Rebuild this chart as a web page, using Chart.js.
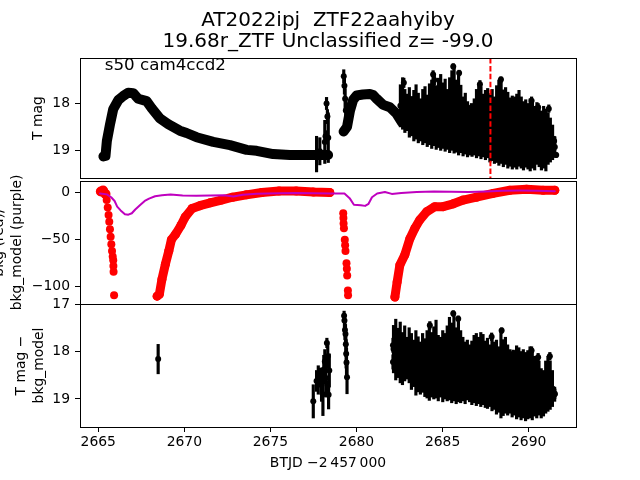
<!DOCTYPE html>
<html>
<head>
<meta charset="utf-8">
<title>AT2022ipj light curve</title>
<script src="https://cdn.jsdelivr.net/npm/chart.js@4.4.1/dist/chart.umd.min.js"></script>
<style>
  html, body { margin: 0; padding: 0; background: #fff; }
  #fig { position: relative; width: 640px; height: 480px; overflow: hidden; }
  #fig canvas { position: absolute; left: 0; }
</style>
</head>
<body>
<div id="fig">
  <canvas id="cTop" width="640" height="182" style="top:0px"></canvas>
  <canvas id="cBot" width="640" height="197" style="top:283px"></canvas>
  <canvas id="cMid" width="640" height="165" style="top:160px"></canvas>
</div>
<script>
// ---- values ----
const titleLines = ['AT2022ipj  ZTF22aahyiby', '19.68r_ZTF Unclassified z= -99.0'];
const sectorLabel = 's50 cam4ccd2';

const xRange = [2663.94, 2692.75];
const xTicks = [2665, 2670, 2675, 2680, 2685, 2690];
const topRange = [17.03, 19.59];
const topTicks = [18, 19];
const midRange = [-118.3, 12.2];
const midTicks = [0, -50, -100];
const botRange = [17.0, 19.59];
const botTicks = [17, 18, 19];
const markT = 2687.78;   // red dashed marker

// top panel: smooth parts of the light curve (dense, tiny errors)
const topCurve1T = [2665.30, 2665.42, 2665.50, 2665.68, 2665.87, 2666.16, 2666.45, 2666.74, 2667.03, 2667.32,
  2667.81, 2668.10, 2668.58, 2669.06, 2669.74, 2670.13, 2670.71, 2671.68, 2672.65, 2673.62,
  2674.20, 2675.16, 2676.13, 2677.20, 2678.35];
const topCurve1M = [19.13, 19.12, 18.80, 18.45, 18.12, 17.93, 17.84, 17.77, 17.78, 17.90,
  17.95, 18.10, 18.32, 18.44, 18.58, 18.63, 18.72, 18.82, 18.89, 18.99,
  19.01, 19.08, 19.10, 19.10, 19.10];
const topCurve2T = [2679.25, 2679.45, 2679.62, 2679.81, 2680.01, 2680.37, 2680.78, 2680.97, 2681.17, 2681.55, 2681.94, 2682.33, 2682.64];
const topCurve2M = [18.60, 18.50, 18.16, 17.92, 17.83, 17.81, 17.80, 17.82, 17.90, 18.03, 18.08, 18.22, 18.40];

// top panel: isolated points with visible error bars
const topSparseT = [2677.68, 2677.87, 2678.16, 2678.20, 2678.26, 2678.31, 2678.36, 2679.26, 2679.30, 2679.34,
  2679.38, 2679.42, 2682.75, 2684.45, 2684.52, 2685.62, 2685.96, 2686.68, 2687.17, 2688.39,
  2689.20, 2690.17, 2690.55, 2691.17, 2691.48, 2691.60];
const topSparseM = [19.08, 19.02, 18.82, 18.70, 18.00, 18.28, 18.73, 17.42, 17.62, 17.90,
  18.15, 18.40, 17.56, 17.38, 17.50, 17.21, 17.35, 18.08, 17.59, 17.49,
  17.94, 17.94, 18.08, 18.11, 18.80, 19.10];
const topSparseE = [0.38, 0.29, 0.46, 0.12, 0.13, 0.15, 0.53, 0.14, 0.18, 0.22,
  0.24, 0.22, 0.10, 0.08, 0.10, 0.06, 0.06, 0.08, 0.08, 0.06,
  0.08, 0.08, 0.08, 0.08, 0.10, 0.05];

// top panel: noisy stretch after 2682.5
const topNoisyT = [2682.55, 2682.68, 2682.81, 2682.94, 2683.07, 2683.20, 2683.33, 2683.46, 2683.59, 2683.72,
  2683.85, 2683.98, 2684.11, 2684.24, 2684.37, 2684.50, 2684.63, 2684.76, 2684.89, 2685.02,
  2685.15, 2685.28, 2685.41, 2685.54, 2685.67, 2685.80, 2685.93, 2686.06, 2686.19, 2686.32,
  2686.45, 2686.58, 2686.71, 2686.84, 2686.97, 2687.10, 2687.23, 2687.36, 2687.49, 2687.62,
  2687.75, 2687.88, 2688.01, 2688.14, 2688.27, 2688.40, 2688.53, 2688.66, 2688.79, 2688.92,
  2689.05, 2689.18, 2689.31, 2689.44, 2689.57, 2689.70, 2689.83, 2689.96, 2690.09, 2690.22,
  2690.35, 2690.48, 2690.61, 2690.74, 2690.87, 2691.00, 2691.13, 2691.26, 2691.39, 2691.52];
const topNoisyM = [18.05, 18.00, 18.16, 18.19, 18.19, 18.27, 18.26, 18.18, 18.31, 18.35,
  18.29, 18.24, 18.37, 18.23, 18.23, 18.15, 18.30, 18.20, 18.19, 18.26,
  18.25, 18.34, 18.25, 18.15, 18.14, 18.27, 18.23, 18.33, 18.49, 18.43,
  18.55, 18.58, 18.62, 18.50, 18.43, 18.35, 18.41, 18.47, 18.46, 18.42,
  18.52, 18.46, 18.57, 18.44, 18.41, 18.38, 18.53, 18.48, 18.57, 18.61,
  18.62, 18.64, 18.60, 18.53, 18.62, 18.69, 18.64, 18.70, 18.67, 18.67,
  18.74, 18.64, 18.73, 18.79, 18.72, 18.78, 18.75, 18.78, 18.83, 18.93];
const topNoisyE = [0.45, 0.55, 0.46, 0.39, 0.53, 0.42, 0.54, 0.58, 0.53, 0.45,
  0.59, 0.60, 0.55, 0.65, 0.73, 0.75, 0.68, 0.74, 0.81, 0.70,
  0.77, 0.64, 0.80, 0.85, 0.92, 0.77, 0.87, 0.72, 0.63, 0.65,
  0.59, 0.52, 0.51, 0.60, 0.73, 0.77, 0.77, 0.67, 0.74, 0.74,
  0.73, 0.76, 0.71, 0.82, 0.91, 0.90, 0.82, 0.82, 0.81, 0.73,
  0.78, 0.72, 0.80, 0.81, 0.76, 0.73, 0.72, 0.70, 0.77, 0.71,
  0.68, 0.66, 0.62, 0.63, 0.66, 0.66, 0.55, 0.47, 0.37, 0.22];

// middle panel: background flux (red) in pieces, and model (purple)
const redAT = [2665.15, 2665.28, 2665.42];
const redAV = [1.0, 2.0, -1.5];
const redDive1T = [2665.49, 2665.55, 2665.60, 2665.64, 2665.68, 2665.72, 2665.76, 2665.80, 2665.84, 2665.87, 2665.88, 2665.89, 2665.92];
const redDive1V = [-8, -16, -24, -31, -39, -47, -55, -62, -68, -72, -78, -84, -109];
const redBT = [2668.42, 2668.55, 2668.70, 2668.90, 2669.10, 2669.25, 2669.50, 2669.80, 2670.05, 2670.45,
  2670.90, 2671.50, 2672.15, 2672.80, 2673.60, 2674.50, 2675.50, 2676.50, 2677.50, 2678.45];
const redBV = [-110, -108, -92, -76, -62, -50, -44, -35, -26, -17,
  -14, -11, -8, -5, -2.5, 0, 1.5, 1.5, 0.5, 0];
const redDive2T = [2679.23, 2679.24, 2679.25, 2679.27, 2679.32, 2679.34, 2679.36, 2679.42, 2679.44, 2679.46, 2679.50, 2679.51];
const redDive2V = [-22, -27, -33, -38, -50, -56, -62, -75, -81, -88, -104, -109];
const redCT = [2682.23, 2682.36, 2682.52, 2682.81, 2683.10, 2683.39, 2683.68, 2684.07, 2684.55, 2685.03,
  2685.62, 2686.20, 2686.97, 2687.94, 2688.91, 2689.88, 2690.84, 2691.52];
const redCV = [-111, -95, -77, -66, -49, -38, -29, -20.5, -15, -15,
  -12, -8, -5, -1, 2.4, 3.5, 2.4, 2.4];
const modelT = [2665.10, 2665.50, 2665.75, 2665.95, 2666.10, 2666.30, 2666.55, 2666.75, 2666.95, 2667.15,
  2667.45, 2667.70, 2667.95, 2668.30, 2668.70, 2669.20, 2669.90, 2670.70, 2671.50, 2672.30,
  2672.85, 2673.40, 2674.20, 2675.50, 2676.50, 2677.50, 2678.50, 2679.30, 2679.60, 2679.85,
  2680.25, 2680.50, 2680.70, 2680.90, 2681.20, 2681.65, 2682.05, 2682.60, 2683.50, 2684.50,
  2685.50, 2686.50, 2687.50, 2688.50, 2689.50, 2690.50, 2691.52];
const modelV = [-1.0, -2.0, -5.0, -9.0, -15, -19, -23, -23.5, -22, -18,
  -13, -9, -6.5, -4, -3, -2.2, -3.3, -3.5, -3.2, -2.8,
  -4.3, -2.5, -1.3, -0.8, -0.5, -0.8, -1.0, -1.0, -6, -13,
  -13.5, -14.2, -12, -5, -1, 0.6, -1.5, -0.5, 0.5, 1.0,
  0.8, 0.6, 1.0, 1.8, 2.0, 1.8, 1.4];

// bottom panel: T mag - bkg_model
const botSparseT = [2668.48, 2677.49, 2677.68, 2677.78, 2677.87, 2677.97, 2678.05, 2678.10, 2678.16, 2678.22,
  2678.28, 2678.33, 2678.38, 2678.42, 2679.28, 2679.30, 2679.33, 2679.36, 2679.38, 2679.40,
  2679.42, 2679.45, 2682.12, 2682.12, 2684.26, 2685.62, 2685.91, 2687.85, 2688.43, 2689.10,
  2690.17, 2690.55, 2691.23, 2691.52];
const botSparseM = [18.16, 19.05, 18.62, 18.60, 18.55, 18.70, 18.90, 18.38, 18.21, 18.56,
  17.82, 18.10, 18.91, 18.40, 17.25, 17.35, 17.55, 17.63, 17.85, 18.05,
  18.23, 18.54, 17.87, 18.22, 17.45, 17.20, 17.31, 17.69, 17.56, 18.05,
  17.98, 18.12, 18.10, 18.89];
const botSparseE = [0.31, 0.35, 0.22, 0.30, 0.20, 0.35, 0.45, 0.30, 0.25, 0.40,
  0.10, 0.25, 0.30, 0.35, 0.10, 0.15, 0.20, 0.20, 0.25, 0.30,
  0.30, 0.35, 0.15, 0.15, 0.08, 0.06, 0.06, 0.08, 0.06, 0.08,
  0.08, 0.08, 0.08, 0.10];
const botNoisyT = [2682.15, 2682.28, 2682.41, 2682.54, 2682.67, 2682.80, 2682.93, 2683.06, 2683.19, 2683.32,
  2683.45, 2683.58, 2683.71, 2683.84, 2683.97, 2684.10, 2684.23, 2684.36, 2684.49, 2684.62,
  2684.75, 2684.88, 2685.01, 2685.14, 2685.27, 2685.40, 2685.53, 2685.66, 2685.79, 2685.92,
  2686.05, 2686.18, 2686.31, 2686.44, 2686.57, 2686.70, 2686.83, 2686.96, 2687.09, 2687.22,
  2687.35, 2687.48, 2687.61, 2687.74, 2687.87, 2688.00, 2688.13, 2688.26, 2688.39, 2688.52,
  2688.65, 2688.78, 2688.91, 2689.04, 2689.17, 2689.30, 2689.43, 2689.56, 2689.69, 2689.82,
  2689.95, 2690.08, 2690.21, 2690.34, 2690.47, 2690.60, 2690.73, 2690.86, 2690.99, 2691.12,
  2691.25, 2691.38, 2691.51];
const botNoisyM = [17.95, 17.96, 18.03, 18.02, 18.15, 18.04, 18.14, 18.08, 18.21, 18.25,
  18.24, 18.27, 18.35, 18.24, 18.34, 18.27, 18.23, 18.28, 18.24, 18.16,
  18.35, 18.33, 18.31, 18.31, 18.25, 18.15, 18.24, 18.13, 18.30, 18.19,
  18.32, 18.37, 18.45, 18.39, 18.46, 18.45, 18.37, 18.38, 18.40, 18.38,
  18.38, 18.48, 18.46, 18.51, 18.48, 18.51, 18.54, 18.59, 18.49, 18.55,
  18.50, 18.60, 18.63, 18.72, 18.66, 18.65, 18.65, 18.72, 18.68, 18.74,
  18.70, 18.65, 18.72, 18.73, 18.77, 18.77, 18.88, 18.88, 18.75, 18.68,
  18.71, 18.78, 18.90];
const botNoisyE = [0.50, 0.64, 0.52, 0.64, 0.55, 0.58, 0.44, 0.58, 0.59, 0.49,
  0.68, 0.58, 0.55, 0.62, 0.61, 0.71, 0.80, 0.68, 0.76, 0.82,
  0.69, 0.63, 0.75, 0.69, 0.79, 0.87, 0.84, 0.91, 0.80, 0.87,
  0.76, 0.67, 0.65, 0.63, 0.60, 0.67, 0.71, 0.76, 0.70, 0.78,
  0.74, 0.70, 0.74, 0.65, 0.77, 0.71, 0.78, 0.69, 0.91, 0.80,
  0.80, 0.74, 0.67, 0.66, 0.68, 0.77, 0.73, 0.72, 0.72, 0.72,
  0.72, 0.75, 0.72, 0.63, 0.63, 0.57, 0.52, 0.48, 0.55, 0.58,
  0.51, 0.38, 0.15];

// ---- helpers ----
Chart.defaults.font.family = "'DejaVu Sans', sans-serif";
Chart.defaults.font.size = 13.9;
Chart.defaults.color = '#000';
Chart.defaults.animation = false;

const xy = (ts, vs) => ts.map((t, i) => ({x: t, y: vs[i]}));
const errBars = (ts, ms, es) => ts.map((t, i) => ({x: t, y: [ms[i] - es[i], ms[i] + es[i]]}));
const minus = v => String(v).replace('-', '\u2212');

// axes box, drawn like matplotlib spines
const frame = {
  id: 'frame',
  afterDatasetsDraw(chart) {
    const {ctx, chartArea: a} = chart;
    const l = Math.round(a.left), t = Math.round(a.top), r = Math.round(a.right), b = Math.round(a.bottom);
    ctx.save();
    ctx.strokeStyle = '#000';
    ctx.lineWidth = 1;
    ctx.strokeRect(l + 0.5, t + 0.5, r - l, b - t);
    ctx.restore();
  }
};

const sectorText = {
  id: 'sectorText',
  afterDraw(chart) {
    const {ctx, chartArea: a} = chart;
    ctx.save();
    ctx.font = "16.7px 'DejaVu Sans', sans-serif";
    ctx.fillStyle = '#000';
    ctx.textBaseline = 'alphabetic';
    ctx.fillText(sectorLabel, a.left + 0.05 * (a.right - a.left), a.bottom - 0.9 * (a.bottom - a.top));
    ctx.restore();
  }
};

function yAxis(range, ticks, reverse, title, titlePad) {
  return {
    type: 'linear', position: 'left', min: range[0], max: range[1], reverse: reverse,
    afterBuildTicks: s => { s.ticks = ticks.map(v => ({value: v})); },
    afterFit: s => { s.width = 80; s.paddingTop = 0; s.paddingBottom = 0; },
    grid: { drawOnChartArea: false, tickLength: 5, color: '#000', lineWidth: 1 },
    border: { display: false },
    ticks: { padding: 5, autoSkip: false, callback: minus },
    title: { display: true, text: title, padding: {top: titlePad, bottom: 0},
             font: {size: 13.9, lineHeight: 1.3} }
  };
}

function xAxisHidden() {
  return { type: 'linear', min: xRange[0], max: xRange[1], display: false,
           offset: false, grid: { offset: false } };
}

function errSets(t, m, e, order) {
  return [
    { type: 'scatter', data: xy(t, m), showLine: false, pointRadius: 3,
      backgroundColor: '#000', borderWidth: 0, order: order },
    { type: 'bar', data: errBars(t, m, e), backgroundColor: '#000', borderWidth: 0,
      barThickness: 2.5, grouped: false, order: order + 1 }
  ];
}

function thickLine(t, v, color, width, radius, order) {
  return { type: 'line', data: xy(t, v), showLine: true, borderColor: color, borderWidth: width,
           borderJoinStyle: 'round', borderCapStyle: 'round', pointRadius: radius,
           pointBackgroundColor: color, pointBorderWidth: 0, tension: 0, order: order };
}

function base(datasets, scales, padding, extraPlugins, title) {
  return {
    type: 'scatter',
    data: { datasets: datasets },
    options: {
      responsive: false, events: [],
      layout: { padding: padding },
      scales: scales,
      plugins: {
        legend: { display: false }, tooltip: { enabled: false },
        title: title || { display: false }
      }
    },
    plugins: [frame].concat(extraPlugins)
  };
}

// ---- top panel ----
new Chart(document.getElementById('cTop'), base(
  [
    { type: 'line', data: [{x: markT, y: topRange[0]}, {x: markT, y: topRange[1]}], showLine: true,
      borderColor: '#ff0000', borderWidth: 2, borderDash: [5.5, 2.4], pointRadius: 0, order: 0 },
    ...errSets(topSparseT.concat(topNoisyT), topSparseM.concat(topNoisyM), topSparseE.concat(topNoisyE), 1),
    thickLine(topCurve1T, topCurve1M, '#000', 10, 0, 4),
    thickLine(topCurve2T, topCurve2M, '#000', 10, 0, 4)
  ],
  { x: xAxisHidden(), y: yAxis(topRange, topTicks, true, 'T mag', 29.5) },
  { left: 0, right: 64, top: 0, bottom: 1 },
  [sectorText],
  { display: true, text: titleLines, color: '#000', fullSize: false,
    font: { size: 20, weight: 'normal', lineHeight: 1.05 }, padding: { top: 10, bottom: 6 } }
));

// ---- middle panel (canvas taller than the panel so the long label can overflow) ----
new Chart(document.getElementById('cMid'), base(
  [
    thickLine(modelT, modelV, '#bf00bf', 2, 0, 0),
    thickLine(redAT, redAV, '#ff0000', 9, 5, 2),
    { type: 'scatter', data: xy(redDive1T, redDive1V), showLine: false, pointRadius: 4,
      backgroundColor: '#ff0000', borderWidth: 0, order: 2 },
    thickLine(redBT, redBV, '#ff0000', 9, 4.5, 2),
    { type: 'scatter', data: xy(redDive2T, redDive2V), showLine: false, pointRadius: 4,
      backgroundColor: '#ff0000', borderWidth: 0, order: 2 },
    thickLine(redCT, redCV, '#ff0000', 9, 4.5, 2)
  ],
  { x: xAxisHidden(), y: yAxis(midRange, midTicks, false, ['bkg (red)/', 'bkg_model (purple)'], -9.5) },
  { left: 0, right: 64, top: 21, bottom: 21 },
  []
));

// ---- bottom panel (extra room above so the "17" label is not cut) ----
new Chart(document.getElementById('cBot'), base(
  errSets(botSparseT.concat(botNoisyT), botSparseM.concat(botNoisyM), botSparseE.concat(botNoisyE), 1),
  {
    x: {
      type: 'linear', min: xRange[0], max: xRange[1], offset: false,
      afterBuildTicks: s => { s.ticks = xTicks.map(v => ({value: v})); },
      afterFit: s => { s.height = 53; s.paddingLeft = 0; s.paddingRight = 0; },
      grid: { drawOnChartArea: false, offset: false, tickLength: 5, color: '#000', lineWidth: 1 },
      border: { display: false },
      ticks: { padding: 2, autoSkip: false, maxRotation: 0, callback: v => String(v) },
      title: { display: true, text: 'BTJD \u22122\u2009457\u2009000', padding: { top: 0, bottom: 8.3 } }
    },
    y: yAxis(botRange, botTicks, true, ['T mag \u2212', 'bkg_model'], 12.5)
  },
  { left: 0, right: 64, top: 21, bottom: 0 },
  []
));
</script>
</body>
</html>
